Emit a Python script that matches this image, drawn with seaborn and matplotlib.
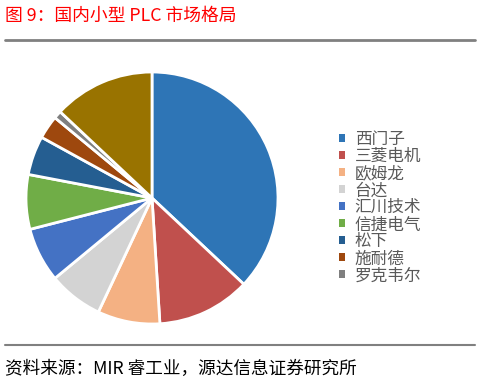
import matplotlib
matplotlib.use("Agg")
import matplotlib.pyplot as plt
import seaborn as sns
from matplotlib.lines import Line2D
from matplotlib.patches import Patch

labels = ["西门子", "三菱电机", "欧姆龙", "台达", "汇川技术", "信捷电气", "松下", "施耐德", "罗克韦尔", "其他"]
values = [37, 12, 8, 7, 7, 7, 5, 3, 1, 13]
colors = ["#2E75B6", "#C0504D", "#F4B183", "#D3D3D3", "#4472C4", "#70AD47",
          "#255E91", "#9E480E", "#7F7F7F", "#997300"]
legend_labels = ["西门子", "三菱电机", "欧姆龙", "台达", "汇川技术", "信捷电气", "松下", "施耐德", "罗克韦尔"]

sns.set_theme(style="white")
plt.rcParams['font.family'] = ['Noto Sans CJK SC', 'DejaVu Sans']

W, H = 481, 383
fig = plt.figure(figsize=(W / 100, H / 100), dpi=100)
fig.patch.set_facecolor("white")

cx, cy, r = 152, 198, 126
ax = fig.add_axes([(cx - r) / W, (H - cy - r) / H, 2 * r / W, 2 * r / H])
palette = sns.color_palette(colors)
wedges, _ = ax.pie(values, colors=palette, startangle=90, counterclock=False,
                   radius=1, wedgeprops=dict(edgecolor="white", linewidth=2))
ax.set_xlim(-1.0, 1.0)
ax.set_ylim(-1.0, 1.0)
ax.set_aspect("equal")
ax.axis("off")

handles = [Patch(facecolor=palette[i], edgecolor="none") for i in range(len(legend_labels))]
leg = fig.legend(handles, legend_labels, loc="upper left",
                 bbox_to_anchor=(331 / W, 1 - 123 / H), frameon=False,
                 fontsize=12, handlelength=0.37, handleheight=0.37,
                 handletextpad=0.55, labelspacing=0.0, borderpad=0)
for t in leg.get_texts():
    t.set_color("#595959")

fig.text(5 / W, 1 - 16 / H, "图 9：国内小型 PLC 市场格局", color="#FF0000",
         fontsize=12.8, va="center", ha="left")
fig.add_artist(Line2D([5 / W, 475 / W], [1 - 40 / H, 1 - 40 / H], color="#808080", lw=2))
fig.add_artist(Line2D([5 / W, 475 / W], [1 - 345 / H, 1 - 345 / H], color="#808080", lw=1.5))
fig.text(5 / W, 1 - 369 / H, "资料来源：MIR 睿工业，源达信息证券研究所", color="#000000",
         fontsize=12.7, va="center", ha="left")

fig.savefig("out.png", dpi=100)
